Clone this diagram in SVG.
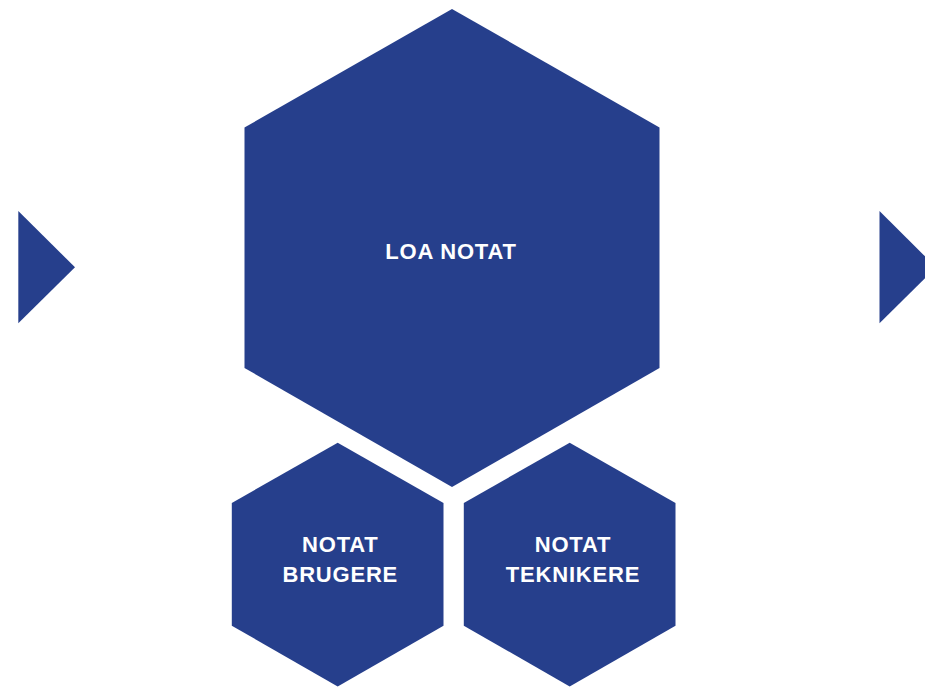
<svg xmlns="http://www.w3.org/2000/svg" width="925" height="687" viewBox="0 0 925 687">
<style>
.s{fill:#263f8c}
.t{fill:#ffffff;font-family:"Liberation Sans",Arial,sans-serif;font-weight:bold;font-size:22px;letter-spacing:0.8px;text-anchor:middle}
</style>
<rect width="925" height="687" fill="#ffffff"/>
<g id="arrow-left"><polygon class="s" points="18.3,211 75,267.3 18.3,323.3"/></g>
<g id="arrow-right"><polygon class="s" points="879.5,211 936,267.3 879.5,323.3"/></g>
<g id="loa-notat">
<polygon class="s" points="452,9 659.5,127.5 659.5,368 452,487 244.5,368 244.5,127.5"/>
<text class="t" x="451" y="258.5">LOA NOTAT</text>
</g>
<g id="notat-brugere">
<polygon class="s" points="337.7,442.7 443.5,503 443.5,625.7 337.7,686.5 231.8,625.7 231.8,503"/>
<text class="t" x="340.3" y="551.5">NOTAT</text>
<text class="t" x="340.3" y="581.5">BRUGERE</text>
</g>
<g id="notat-teknikere">
<polygon class="s" points="569.7,442.7 675.5,503 675.5,625.7 569.7,686.5 463.8,625.7 463.8,503"/>
<text class="t" x="573" y="551.5">NOTAT</text>
<text class="t" x="573" y="581.5">TEKNIKERE</text>
</g>
<g id="connectors"></g>
</svg>
